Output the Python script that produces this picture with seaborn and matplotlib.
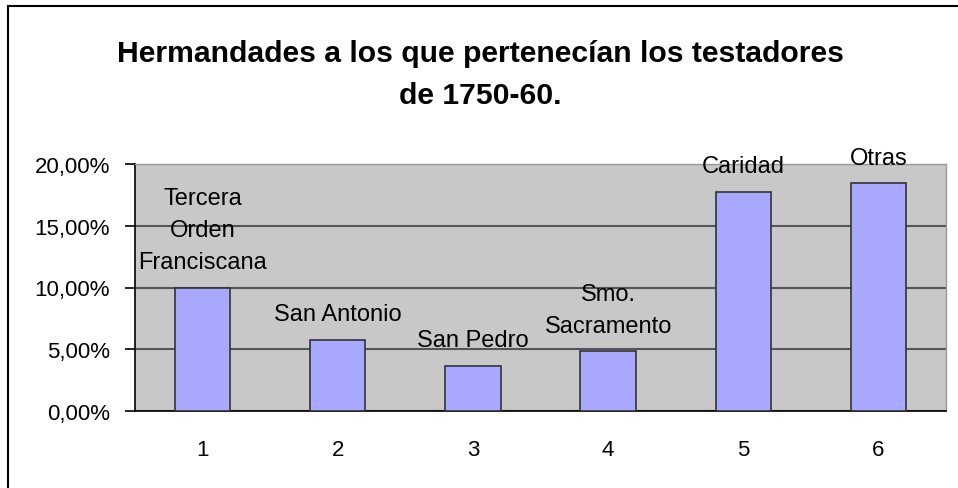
import matplotlib
matplotlib.use("Agg")
import matplotlib.pyplot as plt
import seaborn as sns
from matplotlib.ticker import FuncFormatter, FixedLocator
from matplotlib.patches import Rectangle

# Data
categories = ["1", "2", "3", "4", "5", "6"]
shares = [10.0, 5.75, 3.67, 4.83, 17.76, 18.44]
bar_labels = ["Tercera\nOrden\nFranciscana", "San Antonio", "San Pedro",
              "Smo.\nSacramento", "Caridad", "Otras"]
y_ticks = [0, 5, 10, 15, 20]

sns.set_style("white")
plt.rcParams['font.family'] = ['Liberation Sans', 'DejaVu Sans']
plt.rcParams['text.color'] = 'black'
plt.rcParams['xtick.labelcolor'] = 'black'
plt.rcParams['ytick.labelcolor'] = 'black'

fig = plt.figure(figsize=(9.58, 4.89), dpi=100)
ax = fig.add_axes([135 / 958, 77 / 489, 811 / 958, 247 / 489])

sns.barplot(x=categories, y=shares, color="#A8A8FF", saturation=1,
            edgecolor="#333333", linewidth=1.2, width=0.41, ax=ax, zorder=3)

ax.set_facecolor("#C8C8C8")
ax.set_ylim(0, 20)
ax.set_xlim(-0.5, 5.5)
ax.yaxis.set_major_locator(FixedLocator(y_ticks))
ax.yaxis.set_major_formatter(FuncFormatter(lambda v, p: f"{v:.2f}%".replace(".", ",")))
ax.grid(axis="y", color="#555555", linewidth=1.5, zorder=1)
ax.set_axisbelow(True)

# category ticks between bars, labels centred
ax.set_xticks(range(len(categories)))
ax.set_xticklabels(categories)
ax.set_xticks([i - 0.5 for i in range(len(categories) + 1)], minor=True)
ax.tick_params(axis="x", which="major", length=0, pad=20, labelsize=16)
ax.tick_params(axis="x", which="minor", length=7, width=1.2, color="black", direction="out")
ax.tick_params(axis="y", length=7, width=1.2, color="black", direction="out",
               labelsize=16, pad=11, left=True)

for side in ["left", "bottom"]:
    ax.spines[side].set_color("black")
    ax.spines[side].set_linewidth(1.2)
for side in ["top", "right"]:
    ax.spines[side].set_color("#999999")
    ax.spines[side].set_linewidth(1.0)

for i, (v, lab) in enumerate(zip(shares, bar_labels)):
    ax.annotate(lab, (i, v), xytext=(0, 10.5), textcoords="offset points",
                ha="center", va="bottom", fontsize=17, linespacing=1.6,
                annotation_clip=False, zorder=5)

ax.set_xlabel("")
ax.set_ylabel("")

fig.text(0.501, 0.846, "Hermandades a los que pertenecían los testadores\nde 1750-60.",
         ha="center", va="center", fontsize=21.7, fontweight="bold", linespacing=1.64)

fig.patches.append(Rectangle((8 / 958, -0.05), 1.1, (489 - 7) / 489 + 0.05,
                             transform=fig.transFigure, fill=False,
                             edgecolor="black", linewidth=1.5))

fig.savefig("out.png", dpi=100)
